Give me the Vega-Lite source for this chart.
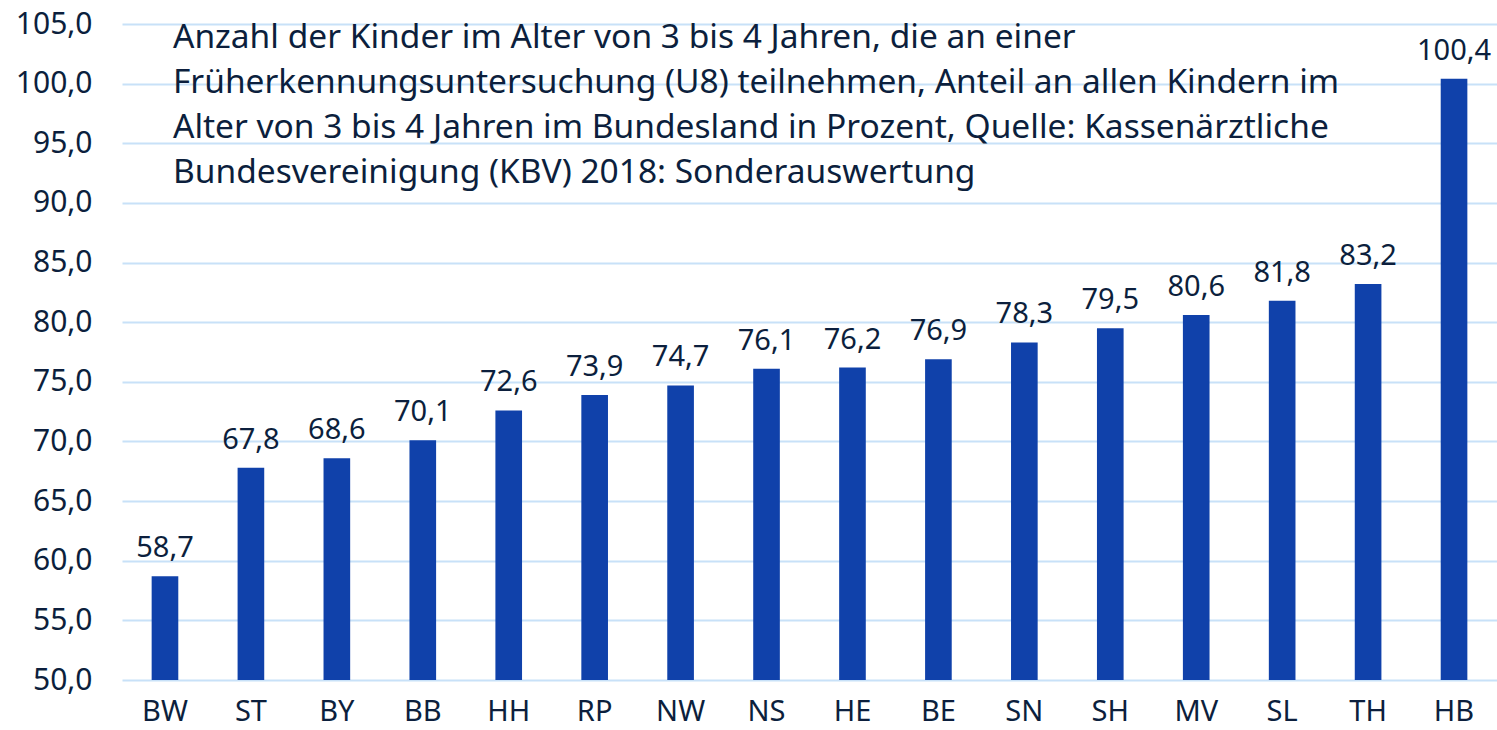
{
  "$schema": "https://vega.github.io/schema/vega-lite/v6.json",
  "width": 1375,
  "height": 656,
  "autosize": {"type": "none"},
  "padding": {"left": 122, "top": 24, "right": 0, "bottom": 50},
  "background": "white",
  "config": {
    "view": {"stroke": null},
    "font": "Noto Sans",
    "locale": {"number": {"decimal": ",", "thousands": ".", "grouping": [3], "currency": ["", " €"]}}
  },
  "datasets": {
    "bars": [
      {"land": "BW", "wert": 58.7},
      {"land": "ST", "wert": 67.8},
      {"land": "BY", "wert": 68.6},
      {"land": "BB", "wert": 70.1},
      {"land": "HH", "wert": 72.6},
      {"land": "RP", "wert": 73.9},
      {"land": "NW", "wert": 74.7},
      {"land": "NS", "wert": 76.1},
      {"land": "HE", "wert": 76.2},
      {"land": "BE", "wert": 76.9},
      {"land": "SN", "wert": 78.3},
      {"land": "SH", "wert": 79.5},
      {"land": "MV", "wert": 80.6},
      {"land": "SL", "wert": 81.8},
      {"land": "TH", "wert": 83.2},
      {"land": "HB", "wert": 100.4}
    ],
    "titel": [
      {"land": "BW", "pos": 105, "text": "Anzahl der Kinder im Alter von 3 bis 4 Jahren, die an einer\nFrüherkennungsuntersuchung (U8) teilnehmen, Anteil an allen Kindern im\nAlter von 3 bis 4 Jahren im Bundesland in Prozent, Quelle: Kassenärztliche\nBundesvereinigung (KBV) 2018: Sonderauswertung"}
    ]
  },
  "layer": [
    {
      "data": {"name": "bars"},
      "mark": {"type": "bar", "color": "#1041aa"},
      "encoding": {
        "x": {
          "field": "land", "type": "nominal", "sort": null,
          "scale": {"paddingInner": 0.69, "paddingOuter": 0.345},
          "axis": {"title": null, "domain": false, "ticks": false, "labelAngle": 0, "labelFontSize": 29, "labelColor": "#0c1f3d", "labelPadding": 17, "labelFont": "Noto Sans"}
        },
        "y": {
          "field": "wert", "type": "quantitative",
          "scale": {"domain": [50, 105], "nice": false, "zero": false},
          "axis": {"title": null, "domain": false, "ticks": false, "values": [50,55,60,65,70,75,80,85,90,95,100,105], "format": ".1f", "labelFontSize": 30, "labelColor": "#0c1f3d", "labelPadding": 30, "gridColor": "#c8e1f8", "gridWidth": 2, "labelFont": "Noto Sans"}
        },
        "y2": {"datum": 50}
      }
    },
    {
      "data": {"name": "bars"},
      "mark": {"type": "text", "fontSize": 29, "color": "#0c1f3d", "baseline": "alphabetic", "dy": -19},
      "encoding": {
        "x": {"field": "land", "type": "nominal", "sort": null},
        "y": {"field": "wert", "type": "quantitative"},
        "text": {"field": "wert", "type": "quantitative", "format": ".1f"}
      }
    },
    {
      "data": {"name": "titel"},
      "mark": {"type": "text", "fontSize": 33.5, "color": "#0c1f3d", "align": "left", "baseline": "alphabetic", "lineBreak": "\n", "lineHeight": 45, "dx": 8, "dy": 24},
      "encoding": {
        "x": {"field": "land", "type": "nominal", "sort": null},
        "y": {"field": "pos", "type": "quantitative"},
        "text": {"field": "text", "type": "nominal"}
      }
    }
  ]
}
